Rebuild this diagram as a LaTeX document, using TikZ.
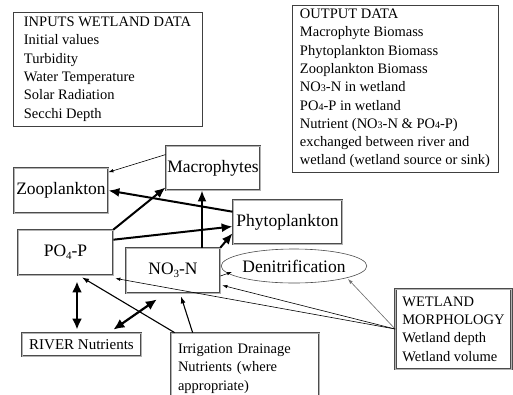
\documentclass[tikz,border=0pt]{standalone}
\usepackage{fontspec}
\setmainfont{Liberation Serif}
\usetikzlibrary{arrows.meta,calc,shapes.geometric}
\newcommand{\smdig}[1]{{\fontsize{10}{10}\selectfont #1}}
\newcommand{\subdig}[1]{\raisebox{-0.4ex}{\fontsize{11}{11}\selectfont #1}}
\begin{document}
\begin{tikzpicture}[x=1pt,y=-1pt,
  databox/.style={draw=black!75, line width=0.6pt, align=left, inner sep=0pt,
    font=\fontsize{14.5}{18.3}\selectfont},
  dbox/.style={draw=black!70, double=black!30, double distance=1pt, line width=0.75pt,
    fill=white, inner sep=0pt},
  compbox/.style={dbox, font=\fontsize{17.5}{20}\selectfont},
  textbox/.style={dbox, align=left, font=\fontsize{14.5}{18.3}\selectfont},
  thickarr/.style={line width=2pt, -{Latex[length=11pt,width=9pt]}},
  dblarr/.style={line width=2.2pt, {Latex[length=11pt,width=10pt]}-{Latex[length=11pt,width=10pt]}},
  medarr/.style={line width=1.1pt, -{Latex[length=7pt,width=5pt]}},
  thinarr/.style={line width=0.6pt, -{Latex[length=5pt,width=3.5pt]}}
]
\useasboundingbox (0,0) rectangle (513,394);
\clip (0,0) rectangle (513,394);

\node[databox, minimum width=189pt, minimum height=114pt] (inputs) at (107.5,69)
  {INPUTS WETLAND DATA\\Initial values\\Turbidity\\Water Temperature\\Solar Radiation\\Secchi Depth};
\node[databox, minimum width=206pt, minimum height=167pt] (outputs) at (395,88.5)
  {OUTPUT DATA\\Macrophyte Biomass\\Phytoplankton Biomass\\Zooplankton Biomass\\NO\smdig{3}-N in wetland\\PO\smdig{4}-P in wetland\\Nutrient (NO\smdig{3}-N \& PO\smdig{4}-P)\\exchanged between river and\\wetland (wetland source or sink)};

\node[compbox, minimum width=94pt, minimum height=44pt] (macro) at (213,168) {Macrophytes};
\node[compbox, minimum width=94pt, minimum height=45pt] (zoo) at (61,190.5) {Zooplankton};
\node[compbox, minimum width=109pt, minimum height=44pt] (phyto) at (287.5,222) {Phytoplankton};
\node[compbox, minimum width=95pt, minimum height=45pt] (po4) at (65.5,252.5) {PO\subdig{4}-P};
\node[compbox, minimum width=94pt, minimum height=45pt] (no3) at (173,270.5) {NO\subdig{3}-N};
\node[ellipse, draw=black!70, line width=0.6pt, minimum width=132pt, minimum height=34pt,
  inner sep=0pt, font=\fontsize{17.5}{20}\selectfont] (denit) at (294,266) {Denitrification};
\node[dbox, font=\fontsize{15}{18}\selectfont, minimum width=119pt, minimum height=23pt] (river)
  at (81.5,344.5) {RIVER Nutrients};
\node[textbox, text width=134pt, inner xsep=7pt, minimum height=71pt] (irrig) at (245,368.5)
  {Irrigation Drainage\\Nutrients (where\\appropriate)};
\node[textbox, minimum width=116pt, minimum height=80pt] (wetland) at (453.5,329)
  {WETLAND\\MORPHOLOGY\\Wetland depth\\Wetland volume};

% connectors
\draw[thinarr] ($(macro.north west)!0.2!(macro.south west)$) -- ($(zoo.north east)!0.1!(zoo.south east)$);
\draw[thickarr] ($(phyto.north west)!0.27!(phyto.south west)$) -- (zoo.east);
\draw[thickarr] (po4.north east) -- ($(macro.south west)+(0,-3)$);
\draw[thickarr] ($(po4.north east)!0.22!(po4.south east)$) -- ($(phyto.north west)!0.6!(phyto.south west)$);
\draw[thickarr] ($(no3.north)+(29,0)$) -- ($(macro.south)+(-11,0)$);
\draw[thickarr] (no3.north east) -- ($(phyto.north west)!0.75!(phyto.south west)$);
\draw[thinarr] ($(no3.north east)!0.62!(no3.south east)$) -- ($(denit.center)+(-62,6)$);
\draw[dblarr, shorten <=6pt, shorten >=3pt] ($(po4.south)+(11.5,0)$) -- ($(river.north)+(-4.5,0)$);
\draw[dblarr] ($(no3.south west)!0.33!(no3.south east)+(0,6)$) -- ($(river.north east)+(-28,-3)$);
\draw[medarr] ($(irrig.north west)+(4,0)$) -- ($(po4.south)+(16.5,2)$);
\draw[medarr] ($(irrig.north west)+(22,0)$) -- ($(no3.south)+(8,3)$);
\draw[thinarr, draw=black!55, fill=black!55] (wetland.west) -- ($(denit.center)+(54,13)$);
\draw[thinarr] (wetland.west) -- ($(no3.south east)+(2,-8)$);
\draw[thinarr] (wetland.west) -- ($(po4.south east)+(2,3)$);
\end{tikzpicture}
\end{document}
